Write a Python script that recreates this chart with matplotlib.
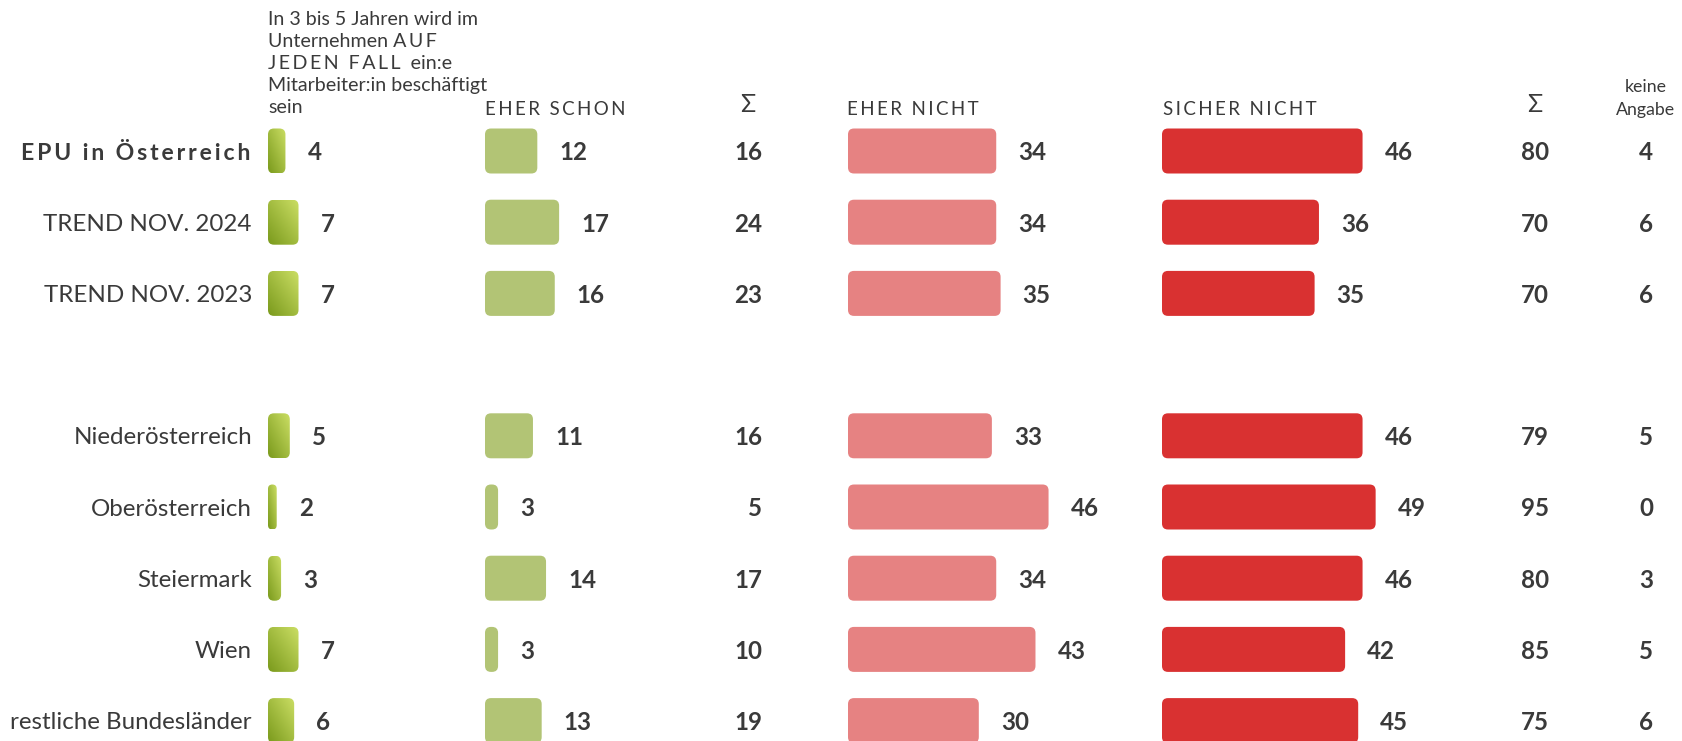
import numpy as np
import matplotlib.pyplot as plt
from matplotlib.patches import FancyBboxPatch
from matplotlib.colors import LinearSegmentedColormap

plt.rcParams['font.family'] = ['Lato', 'DejaVu Sans']

labels = ['EPU in Österreich', 'TREND NOV. 2024', 'TREND NOV. 2023',
          'Niederösterreich', 'Oberösterreich', 'Steiermark', 'Wien',
          'restliche Bundesländer']
row_slots = [0, 1, 2, 4, 5, 6, 7, 8]
jeden_fall = [4, 7, 7, 5, 2, 3, 7, 6]
eher_schon = [12, 17, 16, 11, 3, 14, 3, 13]
sum_ja = [16, 24, 23, 16, 5, 17, 10, 19]
eher_nicht = [34, 34, 35, 33, 46, 34, 43, 30]
sicher_nicht = [46, 36, 35, 46, 49, 46, 42, 45]
sum_nein = [80, 70, 70, 79, 95, 80, 85, 75]
keine_angabe = [4, 6, 6, 5, 0, 3, 5, 6]

TXT = '#3a3a3a'
PX = 4.36          # pixels per percent
ROW0, ROWH, BARH = 151, 71.2, 45
FS = 17.4


def sp(s):
    # fake letter spacing with thin spaces
    return '\u2009'.join(s)


fig = plt.figure(figsize=(16.82, 7.41), dpi=100)
ax = fig.add_axes([0, 0, 1, 1])
ax.set_xlim(0, 1682)
ax.set_ylim(741, 0)
ax.axis('off')

green_cmap = LinearSegmentedColormap.from_list('g', ['#7a9a1c', '#cbde64'])


def bar(x0, yc, val, color=None, gradient=False):
    w = val * PX
    r = min(6, w / 2)
    y0 = yc - BARH / 2
    patch = FancyBboxPatch((x0, y0), w, BARH,
                           boxstyle='round,pad=0,rounding_size=%g' % r,
                           facecolor=color if color else 'none',
                           edgecolor='none')
    ax.add_patch(patch)
    if gradient:
        n = 60
        i, j = np.mgrid[0:n, 0:n] / (n - 1)
        g = (j + 1 - i) / 2
        im = ax.imshow(g, cmap=green_cmap, extent=(x0, x0 + w, y0 + BARH, y0),
                       origin='upper', aspect='auto', interpolation='bilinear')
        im.set_clip_path(patch)
    return x0 + w


cols = [(268, jeden_fall, None, True),
        (485, eher_schon, '#b2c475', False),
        (848, eher_nicht, '#e68282', False),
        (1162, sicher_nicht, '#d93131', False)]

for k, (lab, slot) in enumerate(zip(labels, row_slots)):
    yc = ROW0 + ROWH * slot
    if k == 0:
        ax.text(250, yc, sp(lab), ha='right', va='center_baseline',
                fontsize=16.6, fontweight='bold', color=TXT)
    else:
        ax.text(252, yc, lab, ha='right', va='center_baseline',
                fontsize=FS, color=TXT)
    for x0, vals, col, grad in cols:
        end = bar(x0, yc, vals[k], col, grad)
        ax.text(end + 22, yc, str(vals[k]), ha='left', va='center_baseline',
                fontsize=FS, fontweight='bold', color=TXT)
    ax.text(762, yc, str(sum_ja[k]), ha='right', va='center_baseline',
            fontsize=FS, fontweight='bold', color=TXT)
    ax.text(1549, yc, str(sum_nein[k]), ha='right', va='center_baseline',
            fontsize=FS, fontweight='bold', color=TXT)
    ax.text(1646, yc, str(keine_angabe[k]), ha='center', va='center_baseline',
            fontsize=FS, fontweight='bold', color=TXT)

# column headers
head_lines = ['In 3 bis 5 Jahren wird im',
              'Unternehmen ' + sp('AUF'),
              sp('JEDEN') + '  ' + sp('FALL') + '  ein:e',
              'Mitarbeiter:in beschäftigt',
              'sein']
for n, line in enumerate(head_lines):
    ax.text(268, 18 + 22 * n, line, ha='left', va='center_baseline',
            fontsize=14.1, color=TXT)

for x, h in [(485, 'EHER SCHON'), (847, 'EHER NICHT'), (1163, 'SICHER NICHT')]:
    ax.text(x, 108, sp(h), ha='left', va='center_baseline', fontsize=13.5,
            color=TXT)
ax.text(748, 103, 'Σ', ha='center', va='center_baseline', fontsize=18, color=TXT)
ax.text(1535, 103, 'Σ', ha='center', va='center_baseline', fontsize=18, color=TXT)
ax.text(1646, 85, 'keine', ha='center', va='center_baseline', fontsize=12.8,
        color=TXT)
ax.text(1646, 108, 'Angabe', ha='center', va='center_baseline', fontsize=12.8,
        color=TXT)

fig.savefig('out.png', dpi=100)
